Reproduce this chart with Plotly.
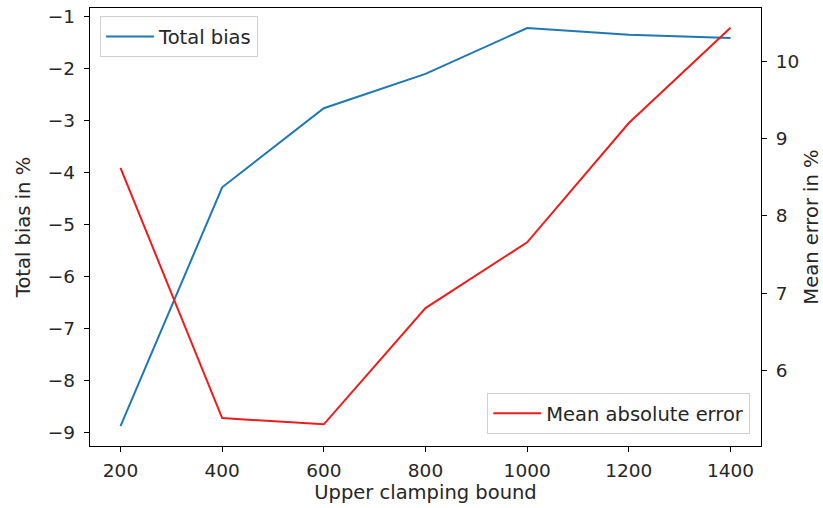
import plotly.graph_objects as go

bounds = [200, 400, 600, 800, 1000, 1200, 1400]
total_bias = [-8.87, -4.28, -2.76, -2.10, -1.22, -1.35, -1.41]
mean_abs_error = [8.62, 5.39, 5.31, 6.81, 7.66, 9.20, 10.43]

FONT = "DejaVu Sans"
FS = 18.5
FST = 19.5
TXT = "#262626"

fig = go.Figure()
fig.add_trace(go.Scatter(x=bounds, y=total_bias, mode="lines", name="Total bias",
                         line=dict(color="#1f77b4", width=2), legend="legend", showlegend=True))
fig.add_trace(go.Scatter(x=bounds, y=mean_abs_error, mode="lines", name="Mean absolute error",
                         line=dict(color="#ee1c1c", width=2), yaxis="y2", legend="legend2", showlegend=True))

axis_common = dict(showgrid=False, zeroline=False, showline=True, linecolor="black", linewidth=1.3,
                   ticks="outside", ticklen=5, tickwidth=1.2, tickcolor="black", automargin=False,
                   tickfont=dict(family=FONT, size=FS, color=TXT))

fig.update_layout(
    width=823, height=508,
    showlegend=True,
    margin=dict(l=90, r=62, t=8, b=62),
    paper_bgcolor="white", plot_bgcolor="white",
    font=dict(family=FONT, size=FS, color=TXT),
    xaxis=dict(range=[140, 1460], tickvals=bounds, mirror=True,
               title=dict(text="Upper clamping bound", font=dict(family=FONT, size=FST, color=TXT), standoff=2),
               ticklabelstandoff=3, **axis_common),
    yaxis=dict(range=[-9.25, -0.835], tickvals=[-9, -8, -7, -6, -5, -4, -3, -2, -1],
               title=dict(text="Total bias in %", font=dict(family=FONT, size=FST, color=TXT), standoff=12),
               ticklabelstandoff=5, **axis_common),
    yaxis2=dict(range=[5.03, 10.685], tickvals=[6, 7, 8, 9, 10], overlaying="y", side="right",
                title=dict(text="Mean error in %", font=dict(family=FONT, size=FST, color=TXT), standoff=9),
                ticklabelstandoff=5, **axis_common),
    legend=dict(x=0.015, y=0.981, xanchor="left", yanchor="top", bgcolor="rgba(255,255,255,0.8)",
                bordercolor="#d0d0d0", borderwidth=1, itemwidth=48,
                font=dict(family=FONT, size=FST, color=TXT)),
    legend2=dict(x=0.984, y=0.027, xanchor="right", yanchor="bottom", bgcolor="rgba(255,255,255,0.8)",
                 bordercolor="#d0d0d0", borderwidth=1, itemwidth=48,
                 font=dict(family=FONT, size=FST, color=TXT)),
)

fig.write_html("out.html")
